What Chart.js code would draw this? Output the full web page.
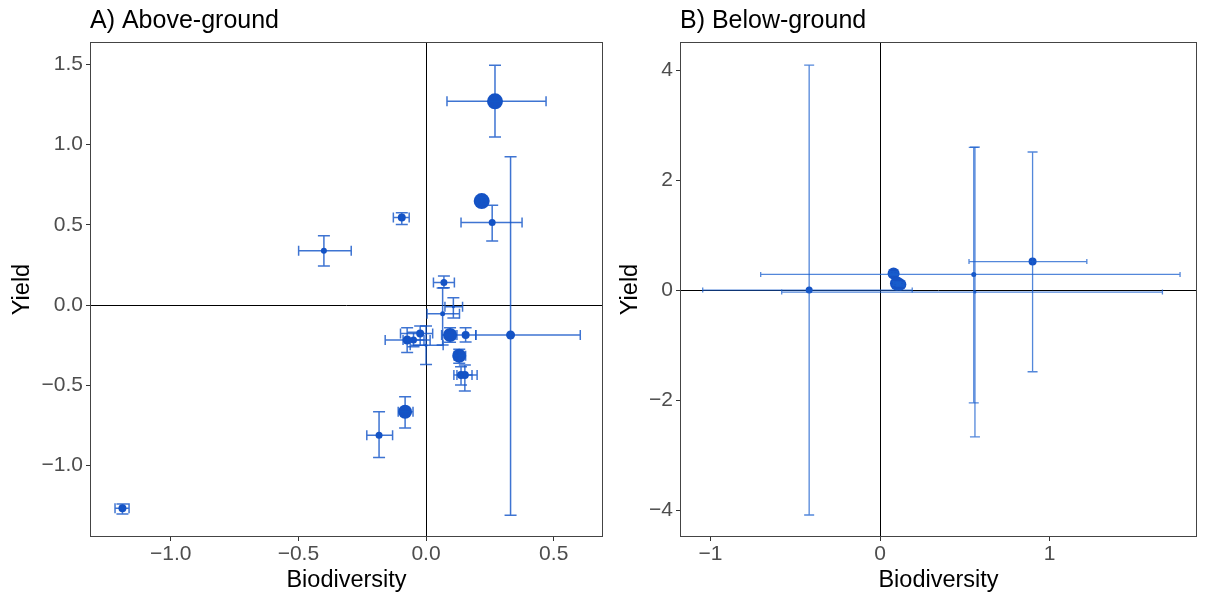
<!DOCTYPE html>
<html><head><meta charset="utf-8">
<script src="https://cdn.jsdelivr.net/npm/chart.js@4.4.0/dist/chart.umd.min.js"></script>
<style>
html,body{margin:0;padding:0;background:#fff;}
#wrap{position:relative;width:1211px;height:601px;overflow:hidden;}
</style></head><body>
<div id="wrap">
<canvas id="ca" width="615" height="601" style="position:absolute;left:0;top:0;"></canvas>
<canvas id="cb" width="596" height="601" style="position:absolute;left:615px;top:0;"></canvas>
</div>
<script>
// ---- Panel A: Above-ground ----
const aX    = [0.27, 0.218, 0.259, 0.331, -0.095, -0.40, 0.07, 0.065, 0.107, -0.074, -0.049, -0.023, 0.0, 0.094, 0.155, 0.13, 0.137, 0.152, -0.082, -0.184, -1.189];
const aY    = [1.27, 0.648, 0.515, -0.187, 0.546, 0.338, 0.141, -0.054, -0.01, -0.218, -0.218, -0.178, -0.25, -0.187, -0.187, -0.316, -0.436, -0.436, -0.665, -0.812, -1.267];
const aXmin = [0.082, 0.20, 0.137, 0.195, -0.128, -0.499, 0.029, 0.004, 0.074, -0.16, -0.09, -0.10, -0.062, 0.061, 0.113, 0.11, 0.109, 0.121, -0.109, -0.232, -1.218];
const aXmax = [0.47, 0.236, 0.376, 0.604, -0.066, -0.293, 0.111, 0.131, 0.143, 0.016, -0.008, 0.026, 0.067, 0.121, 0.195, 0.155, 0.18, 0.2, -0.051, -0.131, -1.163];
const aYmin = [1.047, 0.63, 0.40, -1.31, 0.503, 0.243, 0.108, -0.249, -0.081, -0.295, -0.26, -0.25, -0.37, -0.232, -0.231, -0.363, -0.498, -0.536, -0.766, -0.951, -1.302];
const aYmax = [1.495, 0.67, 0.623, 0.924, 0.575, 0.432, 0.181, 0.106, 0.045, -0.141, -0.17, -0.131, -0.13, -0.141, -0.141, -0.276, -0.384, -0.373, -0.571, -0.665, -1.24];
const aSize = [8, 8, 3.5, 4.5, 4, 3, 3.5, 2.5, 1.5, 4.5, 3.5, 4, 1.5, 7, 4, 7, 4, 4, 7, 3.5, 4];
const aXTicks = [-1.0, -0.5, 0.0, 0.5];
const aYTicks = [-1.0, -0.5, 0.0, 0.5, 1.0, 1.5];

// ---- Panel B: Below-ground ----
const bX    = [-0.418, 0.08, 0.10, 0.12, 0.553, 0.56, 0.90];
const bY    = [0.0, 0.30, 0.12, 0.10, 0.285, -0.036, 0.518];
const bXmin = [-1.046, 0.06, 0.08, 0.10, -0.704, -0.58, 0.525];
const bXmax = [0.19, 0.10, 0.12, 0.14, 1.77, 1.666, 1.22];
const bYmin = [-4.09, 0.27, 0.09, 0.07, -2.05, -2.67, -1.485];
const bYmax = [4.09, 0.33, 0.15, 0.13, 2.595, 2.6, 2.51];
const bSize = [3.5, 6, 7, 6, 2.5, 1.5, 4];
const bXTicks = [-1, 0, 1];
const bYTicks = [-4, -2, 0, 2, 4];

const FONT = "'Liberation Sans', Arial, sans-serif";
const POINT = '#1552c4';

function signed(s) { return s.replace('-', '\u2212'); }

function makePanel(canvas, d, st) {
  const errPlugin = {
    id: 'err',
    beforeDatasetsDraw(chart) {
      const {ctx, chartArea: a, scales: {x, y}} = chart;
      ctx.save();
      ctx.strokeStyle = '#000';
      ctx.lineWidth = 1;
      const x0 = Math.round(x.getPixelForValue(0)) + 0.5;
      const y0 = Math.round(y.getPixelForValue(0)) + 0.5;
      ctx.beginPath();
      ctx.moveTo(x0, a.top); ctx.lineTo(x0, a.bottom);
      ctx.moveTo(a.left, y0); ctx.lineTo(a.right, y0);
      ctx.stroke();
      ctx.restore();
    },
    afterDatasetsDraw(chart) {
      const {ctx, scales: {x, y}} = chart;
      ctx.save();
      ctx.strokeStyle = st.bar;
      ctx.lineWidth = st.lw;
      for (let i = 0; i < d.x.length; i++) {
        const px = x.getPixelForValue(d.x[i]);
        const py = y.getPixelForValue(d.y[i]);
        const x1 = x.getPixelForValue(d.xmin[i]), x2 = x.getPixelForValue(d.xmax[i]);
        const y1 = y.getPixelForValue(d.ymin[i]), y2 = y.getPixelForValue(d.ymax[i]);
        ctx.beginPath();
        ctx.moveTo(px, y1); ctx.lineTo(px, y2);
        ctx.moveTo(px - st.capY, y1); ctx.lineTo(px + st.capY, y1);
        ctx.moveTo(px - st.capY, y2); ctx.lineTo(px + st.capY, y2);
        ctx.moveTo(x1, py); ctx.lineTo(x2, py);
        ctx.moveTo(x1, py - st.capX); ctx.lineTo(x1, py + st.capX);
        ctx.moveTo(x2, py - st.capX); ctx.lineTo(x2, py + st.capX);
        ctx.stroke();
      }
      ctx.restore();
    },
    afterDraw(chart) {
      const {ctx, chartArea: a} = chart;
      ctx.save();
      ctx.strokeStyle = '#444';
      ctx.lineWidth = 1;
      ctx.strokeRect(Math.round(a.left) + 0.5, Math.round(a.top) + 0.5, Math.round(a.right - a.left) - 1, Math.round(a.bottom - a.top) - 1);
      ctx.restore();
    }
  };
  const pts = d.x.map((v, i) => ({x: v, y: d.y[i]}));
  return new Chart(canvas, {
    type: 'scatter',
    data: {datasets: [{data: pts, pointRadius: d.size, pointHoverRadius: d.size,
      backgroundColor: POINT, borderWidth: 0, pointBorderWidth: 0}]},
    options: {
      responsive: false, animation: false, events: [],
      layout: {padding: {left: 0, right: st.padRight, top: 0, bottom: 0}},
      plugins: {
        legend: {display: false}, tooltip: {enabled: false},
        title: {display: true, text: st.title, align: 'start', fullSize: false,
          color: '#000', font: {family: FONT, size: 25, weight: 'normal', lineHeight: 1.2},
          padding: {top: 6, bottom: 6}}
      },
      scales: {
        x: {
          type: 'linear', min: st.xmin, max: st.xmax,
          border: {display: false},
          grid: {display: true, drawOnChartArea: false, drawTicks: true, tickLength: 4, color: '#333'},
          ticks: {color: '#4d4d4d', font: {family: FONT, size: 21}, padding: 1,
            callback: v => signed(st.fmt(v)), maxRotation: 0, autoSkip: false},
          title: {display: true, text: 'Biodiversity', color: '#000',
            font: {family: FONT, size: 23.5}, padding: {top: 0, bottom: 6}},
          afterBuildTicks: s => { s.ticks = d.xt.map(v => ({value: v})); },
          afterFit: s => { s.height = 64; }
        },
        y: {
          type: 'linear', min: st.ymin, max: st.ymax,
          border: {display: false},
          grid: {display: true, drawOnChartArea: false, drawTicks: true, tickLength: 4, color: '#333'},
          ticks: {color: '#4d4d4d', font: {family: FONT, size: 21}, padding: 3,
            callback: v => signed(st.fmt(v)), autoSkip: false},
          title: {display: true, text: 'Yield', color: '#000',
            font: {family: FONT, size: 23.5}, padding: {top: st.ytPad, bottom: 0}},
          afterBuildTicks: s => { s.ticks = d.yt.map(v => ({value: v})); },
          afterFit: s => { s.width = st.yw; }
        }
      }
    },
    plugins: [errPlugin]
  });
}

makePanel(document.getElementById('ca'),
  {x: aX, y: aY, xmin: aXmin, xmax: aXmax, ymin: aYmin, ymax: aYmax, size: aSize, xt: aXTicks, yt: aYTicks},
  {title: 'A) Above-ground', xmin: -1.316, xmax: 0.693, ymin: -1.446, ymax: 1.64,
   fmt: v => v.toFixed(1), yw: 90, ytPad: 8, padRight: 12, lw: 1.5, capY: 6, capX: 5,
   bar: 'rgba(20,85,200,0.82)'});

makePanel(document.getElementById('cb'),
  {x: bX, y: bY, xmin: bXmin, xmax: bXmax, ymin: bYmin, ymax: bYmax, size: bSize, xt: bXTicks, yt: bYTicks},
  {title: 'B) Below-ground', xmin: -1.18, xmax: 1.87, ymin: -4.49, ymax: 4.51,
   fmt: v => String(v), yw: 65, ytPad: 1, padRight: 14, lw: 1.3, capY: 5, capX: 2.5,
   bar: 'rgba(25,95,205,0.75)'});
</script>
</body></html>
